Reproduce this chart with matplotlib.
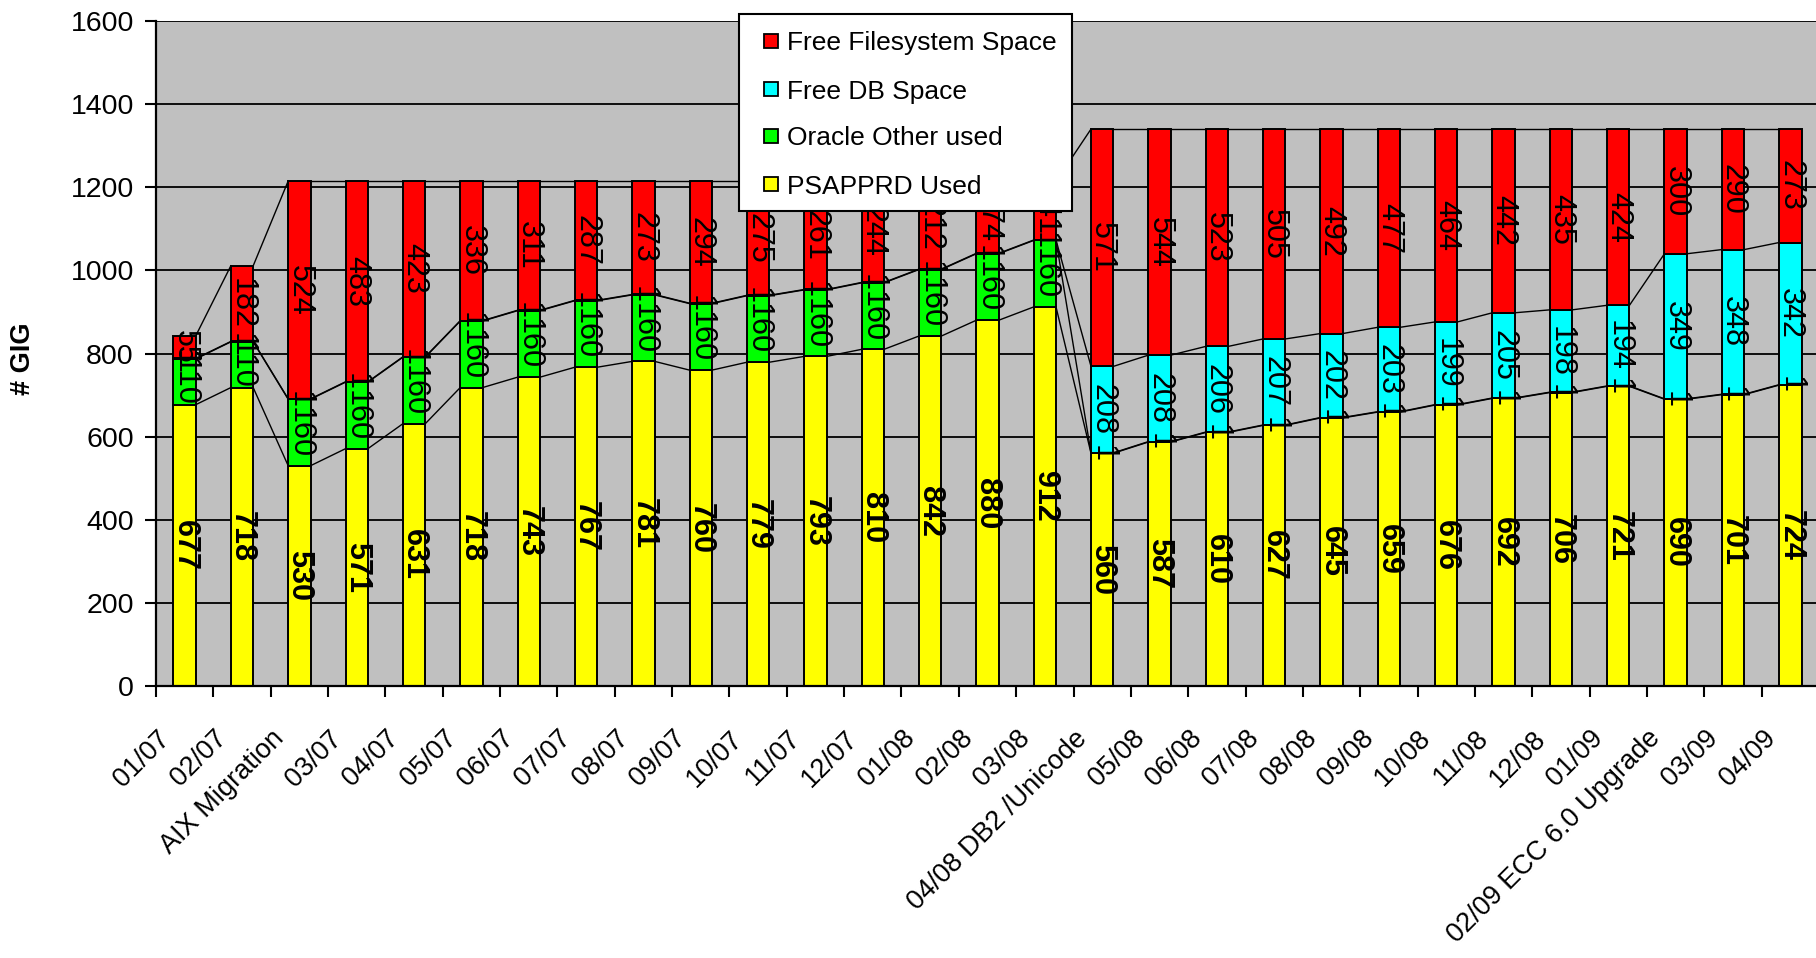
import numpy as np
import matplotlib
matplotlib.use("Agg")
import matplotlib.pyplot as plt
from matplotlib.patches import Rectangle
from matplotlib.transforms import ScaledTranslation

plt.rcParams['font.family'] = ['Liberation Sans', 'DejaVu Sans']

categories = ["01/07", "02/07", "AIX Migration", "03/07", "04/07", "05/07", "06/07",
              "07/07", "08/07", "09/07", "10/07", "11/07", "12/07", "01/08", "02/08",
              "03/08", "04/08 DB2 /Unicode", "05/08", "06/08", "07/08", "08/08", "09/08",
              "10/08", "11/08", "12/08", "01/09", "02/09 ECC 6.0 Upgrade", "03/09", "04/09"]

psapprd_used = [677, 718, 530, 571, 631, 718, 743, 767, 781, 760, 779, 793, 810, 842, 880,
                912, 560, 587, 610, 627, 645, 659, 676, 692, 706, 721, 690, 701, 724]
oracle_other = [110, 110, 160, 160, 160, 160, 160, 160, 160, 160, 160, 160, 160, 160, 160,
                160, 1, 1, 1, 1, 1, 1, 1, 1, 1, 1, 1, 1, 1]
free_db = [1, 1, 1, 1, 1, 1, 1, 1, 1, 1, 1, 1, 1, 1, 1,
           1, 208, 208, 206, 207, 202, 203, 199, 205, 198, 194, 349, 348, 342]
free_fs = [55, 182, 524, 483, 423, 336, 311, 287, 273, 294, 275, 261, 244, 212, 174,
           141, 571, 544, 523, 505, 492, 477, 464, 442, 435, 424, 300, 290, 273]

series_names = ["PSAPPRD Used", "Oracle Other used", "Free DB Space", "Free Filesystem Space"]
series_values = [psapprd_used, oracle_other, free_db, free_fs]
series_colors = ["#FFFF00", "#00FF00", "#00FFFF", "#FF0000"]
series_bold = [True, False, False, False]

W, H = 1816, 958
fig = plt.figure(figsize=(W / 100, H / 100), dpi=100)
ax = fig.add_axes([156 / W, 1 - 686 / H, (1819 - 156) / W, (686 - 21) / H])
ax.set_facecolor("#C0C0C0")

n = len(categories)
x = np.arange(n)
bw = 0.39
bottom = np.zeros(n)
levels = []
for vals, col, bold in zip(series_values, series_colors, series_bold):
    v = np.array(vals, dtype=float)
    ax.bar(x, v, bw, bottom=bottom, color=col, edgecolor="black", linewidth=1.4, zorder=3)
    for i in range(n):
        ax.text(x[i], bottom[i] + v[i] / 2, str(vals[i]), rotation=270,
                ha="center", va="center", fontsize=22,
                fontweight="bold" if bold else "normal", zorder=6, clip_on=True)
    bottom = bottom + v
    levels.append(bottom.copy())

# series lines between adjacent bars
for L in levels:
    for i in range(n - 1):
        ax.plot([x[i] + bw / 2, x[i + 1] - bw / 2], [L[i], L[i + 1]],
                color="black", lw=1.0, zorder=4)

ax.set_xlim(-0.5, n - 0.5)
ax.set_ylim(0, 1600)
ax.set_yticks(np.arange(0, 1601, 200))
ax.yaxis.grid(True, color="black", lw=1.3, zorder=0)
ax.set_axisbelow(True)
ax.tick_params(axis="y", labelsize=20.5, length=8, width=1.5, pad=8, direction="out")

ax.set_xticks(np.arange(-0.5, n, 1.0))
ax.set_xticklabels([])
ax.tick_params(axis="x", which="major", length=8, width=1.5, direction="out")
ax.set_xticks(x, minor=True)
ax.set_xticklabels(categories, minor=True, rotation=45, ha="right", va="center",
                   rotation_mode="anchor", fontsize=19.5)
ax.tick_params(axis="x", which="minor", length=0, pad=35)
off = ScaledTranslation(-0.19, 0, fig.dpi_scale_trans)
for lab in ax.get_xticklabels(minor=True):
    lab.set_transform(lab.get_transform() + off)

for s in ["top", "right"]:
    ax.spines[s].set_visible(False)
for s in ["left", "bottom"]:
    ax.spines[s].set_linewidth(1.6)
    ax.spines[s].set_zorder(5)

fig.text(23 / W, 1 - 359 / H, "# GIG", rotation=90, fontsize=19.5, fontweight="bold",
         ha="center", va="center")

# legend drawn manually (figure pixel coordinates converted to fractions)
def fx(px):
    return px / W

def fy(py):
    return 1 - py / H

fig.patches.append(Rectangle((fx(739), fy(211)), fx(1072) - fx(739), fy(14) - fy(211),
                             transform=fig.transFigure, facecolor="white",
                             edgecolor="black", linewidth=1.5, zorder=10))
row_y = [40.5, 89.0, 135.5, 184.0]
for k, idx in enumerate([3, 2, 1, 0]):
    yc = row_y[k]
    fig.patches.append(Rectangle((fx(764), fy(yc + 7)), fx(14), 14 / H,
                                 transform=fig.transFigure, facecolor=series_colors[idx],
                                 edgecolor="black", linewidth=1.3, zorder=11))
    fig.text(fx(787), fy(yc), series_names[idx], fontsize=19, ha="left",
             va="center_baseline", zorder=12)

fig.savefig("out.png", dpi=100)
